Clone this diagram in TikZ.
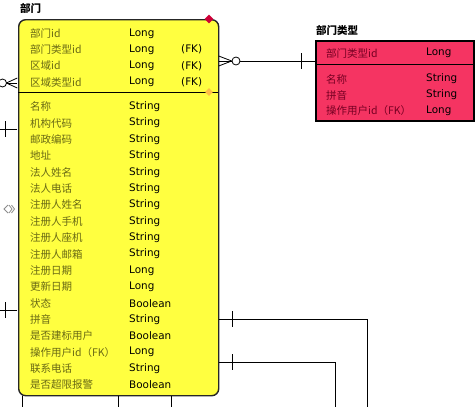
\documentclass[tikz,border=0pt]{standalone}
\usepackage{fontspec}
\setmainfont{DejaVu Sans}
\newfontfamily\cjk{Noto Sans CJK SC}
\usetikzlibrary{shapes.geometric}
\definecolor{entyellow}{RGB}{255,255,64}
\definecolor{entred}{RGB}{245,52,98}
\definecolor{nameolive}{RGB}{105,105,20}
\definecolor{namered}{RGB}{118,0,34}
\definecolor{pkred}{RGB}{205,0,55}
\definecolor{fkorange}{RGB}{255,190,70}

\begin{document}
\begin{tikzpicture}[x=1pt,y=-1pt]
\tikzstyle{entity}=[draw=black!85, anchor=north west, inner sep=0pt, line width=1.4pt]
\tikzstyle{fieldname}=[anchor=west, inner sep=0pt, font=\cjk\fontsize{10.5}{12}\selectfont]
\tikzstyle{fieldtype}=[anchor=west, inner sep=0pt, font=\fontsize{10.4}{12}\selectfont]
\tikzstyle{title}=[anchor=west, inner sep=0pt, font=\cjk\bfseries\fontsize{10.5}{12}\selectfont]
\tikzstyle{rel}=[draw, line width=0.8pt]
\tikzstyle{ring}=[circle, draw, fill=white, line width=0.8pt, minimum size=8pt, inner sep=0pt]

\useasboundingbox (0,0) rectangle (475,407);

% 部门
\node[title] (deptT) at (20,8) {部门};
\node[entity, fill=entyellow, rounded corners=7pt, minimum width=200pt, minimum height=376pt] (dept) at (18,19) {};
\draw[line width=1pt] (18,92) -- (218,92);
\foreach \n/\t [count=\i from 0] in {部门id/Long, 部门类型id/Long, 区域id/Long, 区域类型id/Long}{
  \node[fieldname, text=nameolive] (key\i) at (30,33.3+16.3*\i) {\n};
  \node[fieldtype] (keytype\i) at (129,33.3+16.3*\i) {\t};
}
\foreach \i in {1,2,3}
  \node[fieldtype] (fk\i) at (181,33.3+16.3*\i) {(FK)};
\foreach \n/\t [count=\i from 0] in {名称/String, 机构代码/String, 邮政编码/String, 地址/String,
    法人姓名/String, 法人电话/String, 注册人姓名/String, 注册人手机/String, 注册人座机/String,
    注册人邮箱/String, 注册日期/Long, 更新日期/Long, 状态/Boolean, 拼音/String,
    是否建标用户/Boolean, 操作用户id（FK）/Long, 联系电话/String, 是否超限报警/Boolean}{
  \node[fieldname, text=nameolive] (attr\i) at (30,106.7+16.37*\i) {\n};
  \node[fieldtype] (attrtype\i) at (129,106.7+16.37*\i) {\t};
}
\node[diamond, fill=pkred, minimum size=9pt, inner sep=0pt] (pk) at (209,19) {};
\node[diamond, fill=fkorange, minimum size=8pt, inner sep=0pt] (fkmark) at (209,92) {};

% 部门类型
\node[title] (typeT) at (316,30) {部门类型};
\node[entity, draw=black, fill=entred, line width=1.8pt, minimum width=158pt, minimum height=80pt] (dtype) at (315,40) {};
\draw[line width=1pt] (315,64) -- (473,64);
\node[fieldname, text=namered] (tkey) at (326,53) {部门类型id};
\node[fieldtype] (tkeytype) at (426,53) {Long};
\foreach \n/\t [count=\i from 0] in {名称/String, 拼音/String, 操作用户id（FK）/Long}{
  \node[fieldname, text=namered] (tattr\i) at (326,79+16*\i) {\n};
  \node[fieldtype] (tattrtype\i) at (426,79+16*\i) {\t};
}

% relations
\coordinate (a1) at (218.7,61);
\coordinate (b1) at (315,61);
\draw[rel] (a1) -- (b1);
\draw[rel] ([yshift=5pt]a1) -- ([xshift=13pt]a1) -- ([yshift=-5pt]a1);
\node[ring] (o1) at (236,61) {};
\draw[rel] ([xshift=-14pt,yshift=8pt]b1) -- ([xshift=-14pt,yshift=-8pt]b1);

\coordinate (a2) at (17.3,83);
\coordinate (b2) at (0,83);
\draw[rel] (a2) -- (b2);
\draw[rel] ([yshift=5pt]a2) -- ([xshift=-11pt]a2) -- ([yshift=-5pt]a2);
\node[ring] (o2) at (2.5,83) {};

\coordinate (a3) at (17.3,129);
\coordinate (b3) at (0,129);
\draw[rel] (a3) -- (b3);
\draw[rel] (5,121) -- (5,137);

\draw[black!45, line width=0.8pt] (8,205) -- (4,209) -- (8,213)
  (9,205) -- (12,209) -- (9,213) (11.5,205) -- (14.5,209) -- (11.5,213);

\coordinate (a5) at (17.3,310);
\coordinate (b5) at (0,310);
\draw[rel] (a5) -- (b5);
\draw[rel] (5,302) -- (5,318);

\coordinate (a6) at (218.7,319);
\coordinate (b6) at (367,407);
\draw[rel] (a6) -| (b6);
\draw[rel] (232,311) -- (232,327);

\coordinate (a7) at (218.7,362);
\coordinate (b7) at (335,407);
\draw[rel] (a7) -| (b7);
\draw[rel] (232,354) -- (232,370);

\foreach \x in {22,118,171}{
  \coordinate (top\x) at (\x,395.7);
  \coordinate (bot\x) at (\x,407);
  \draw[rel] (top\x) -- (bot\x);
}

\coordinate (a9) at (473.9,70.5);
\coordinate (b9) at (475,70.5);
\draw[rel] (a9) -- (b9);
\end{tikzpicture}
\end{document}
